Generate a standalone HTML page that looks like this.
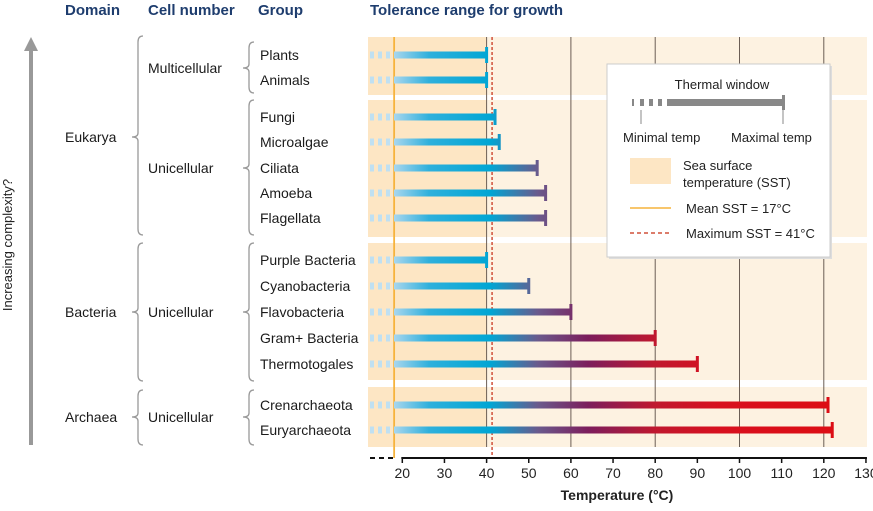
<!DOCTYPE html>
<html><head><meta charset="utf-8"><style>
body{margin:0;background:#fff;width:873px;height:506px;overflow:hidden}
svg text{font-family:"Liberation Sans Narrow","Liberation Sans",sans-serif}
</style></head><body>
<svg id="c" width="873" height="506" viewBox="0 0 873 506">
<defs>
<linearGradient id="g" gradientUnits="userSpaceOnUse" x1="394" y1="0" x2="830" y2="0">
<stop offset="0" stop-color="#a8d6ee"/>
<stop offset="0.08" stop-color="#2fb0dc"/>
<stop offset="0.22" stop-color="#00a6d4"/>
<stop offset="0.33" stop-color="#6a5a8c"/>
<stop offset="0.445" stop-color="#7c1d5c"/>
<stop offset="0.6" stop-color="#c0182e"/>
<stop offset="0.75" stop-color="#d8101e"/>
<stop offset="1" stop-color="#dc0d14"/>
</linearGradient>
</defs>
<g id="bg"></g><g id="grid"></g><g id="bars"></g><g id="axis"></g><g id="left"></g>
</svg>
<script>
const groups=["Plants","Animals","Fungi","Microalgae","Ciliata","Amoeba","Flagellata","Purple Bacteria","Cyanobacteria","Flavobacteria","Gram+ Bacteria","Thermotogales","Crenarchaeota","Euryarchaeota"];
const maxTemps=[40,40,42,43,52,54,54,40,50,60,80,90,121,122];
const rowY=[55,80,117,142,168,193,218,260,286,312,338,364,405,430];
const ticks=[20,30,40,50,60,70,80,90,100,110,120,130];
const meanSST=18.3, maxSST=41.3, minTemp=18;
const NS="http://www.w3.org/2000/svg";
const x=t=>402.3+(t-20)*4.215;
function mk(p,tag,a,txt){const e=document.createElementNS(NS,tag);for(const k in a)e.setAttribute(k,a[k]);if(txt!=null)e.textContent=txt;document.getElementById(p).appendChild(e);return e;}
[[37,95],[100,237],[243,380],[387,447]].forEach(([a,b])=>{
 const r1=mk('bg','rect',{x:368,y:a,width:867-368,height:b-a,fill:'#fdf2e1'});
 
 const r2=mk('bg','rect',{x:368,y:a,width:x(40)-368,height:b-a,fill:'#fde6c4'});
 
});
[40,60,80,100,120].forEach(t=>{const l=mk('grid','line',{x1:x(t),x2:x(t),y1:37,y2:447,stroke:'#6b5e55','stroke-width':1});
 });
const ms=mk('grid','line',{x1:x(meanSST)-1,x2:x(meanSST)-1,y1:37,y2:458,stroke:'#f6b33c','stroke-width':1.8});

const xs=mk('grid','line',{x1:x(maxSST),x2:x(maxSST),y1:37,y2:455,stroke:'#d0503a','stroke-width':1.5,'stroke-dasharray':'3,2'});

groups.forEach((g,i)=>{
 const y=rowY[i];
 for(let k=0;k<3;k++){const d=mk('bars','rect',{x:370+k*8,y:y-3.5,width:4,height:7,fill:'#bfe0f2'});
  }
 const xe=x(maxTemps[i]);
 const b=mk('bars','rect',{x:394,y:y-3.5,width:xe-394,height:7,fill:'url(#g)'});
 
 const c=mk('bars','rect',{x:xe-1.5,y:y-8,width:3,height:16,fill:'url(#g)'});
 
 const t=mk('left','text',{x:260,y:y+5,'font-size':14,fill:'#1a1a1a'},g);
 
});
const L=mk('bars','g',{});
L.innerHTML=`<rect x="609" y="66" width="223" height="193" fill="#ddd"/><rect x="607" y="64" width="223" height="193" fill="#fff" stroke="#ccc"/>
<text x="722" y="89" font-size="13" text-anchor="middle" fill="#222">Thermal window</text>
<rect x="632" y="99" width="2" height="7" fill="#888"/><rect x="640" y="99" width="4" height="7" fill="#888"/><rect x="649" y="99" width="4" height="7" fill="#888"/><rect x="658" y="99" width="4" height="7" fill="#888"/>
<rect x="667" y="99" width="116" height="7" fill="#888"/><rect x="782" y="95" width="3" height="15" fill="#888"/>
<line x1="641" y1="110" x2="641" y2="124" stroke="#888"/><line x1="783" y1="110" x2="783" y2="124" stroke="#888"/>
<text x="623" y="142" font-size="13" fill="#222">Minimal temp</text><text x="731" y="142" font-size="13" fill="#222">Maximal temp</text>
<rect x="630" y="158" width="41" height="26" fill="#fde6c4"/>
<text x="683" y="170" font-size="13" fill="#222">Sea surface</text><text x="683" y="187" font-size="13" fill="#222">temperature (SST)</text>
<line x1="630" y1="208" x2="671" y2="208" stroke="#f6b33c" stroke-width="1.5"/>
<text x="686" y="213" font-size="13" fill="#222">Mean SST = 17°C</text>
<line x1="630" y1="233" x2="671" y2="233" stroke="#d0503a" stroke-width="1.5" stroke-dasharray="4,3"/>
<text x="686" y="238" font-size="13" fill="#222">Maximum SST = 41°C</text>`;
const ax=mk('axis','line',{x1:x(20)-1,x2:x(130)+1,y1:458,y2:458,stroke:'#111','stroke-width':2});

mk('axis','line',{x1:370,x2:396,y1:458,y2:458,stroke:'#111','stroke-width':2,'stroke-dasharray':'5,4'});
ticks.forEach(t=>{mk('axis','line',{x1:x(t),x2:x(t),y1:458,y2:463,stroke:'#111','stroke-width':1.5});
 const l=mk('axis','text',{x:x(t),y:478,'font-size':14,'text-anchor':'middle',fill:'#222'},t);
 });
const xt=mk('axis','text',{x:617,y:500,'font-size':14,'font-weight':'bold','text-anchor':'middle',fill:'#222'},'Temperature (°C)');

[["Domain",65],["Cell number",148],["Group",258],["Tolerance range for growth",370]].forEach(([s,xx])=>{
 const h=mk('left','text',{x:xx,y:15,'font-size':15,'font-weight':'bold',fill:'#1e3d6e'},s);
 });
[["Eukarya",65,142],["Multicellular",148,73],["Unicellular",148,173],["Bacteria",65,317],["Unicellular",148,317],["Archaea",65,422],["Unicellular",148,422]].forEach(([s,xx,yy])=>{
 const h=mk('left','text',{x:xx,y:yy,'font-size':14,fill:'#1a1a1a'},s);
 });
function brace(x0,y0,y1,ym){const w=6,r=4;
 const d=`M${x0+w+5},${y0} Q${x0+w},${y0} ${x0+w},${y0+r+2} L${x0+w},${ym-r} Q${x0+w},${ym} ${x0},${ym} Q${x0+w},${ym} ${x0+w},${ym+r} L${x0+w},${y1-r-2} Q${x0+w},${y1} ${x0+w+5},${y1}`;
 const p=mk('left','path',{d:d,fill:'none',stroke:'#999','stroke-width':1.3});
 }
brace(132,36,235,137);brace(243,42,93,68);brace(243,100,235,168);
brace(132,243,381,312);brace(243,243,381,312);brace(132,390,445,417);brace(243,390,445,417);
mk('left','line',{x1:31,x2:31,y1:445,y2:50,stroke:'#999','stroke-width':4});
const ah=mk('left','path',{d:'M24,51 L31,37 L38,51 Z',fill:'#999'});

const vt=mk('left','text',{x:0,y:0,'font-size':13,'text-anchor':'middle',fill:'#222',transform:'translate(12,245) rotate(-90)'},'Increasing complexity?');

</script>
</body></html>
